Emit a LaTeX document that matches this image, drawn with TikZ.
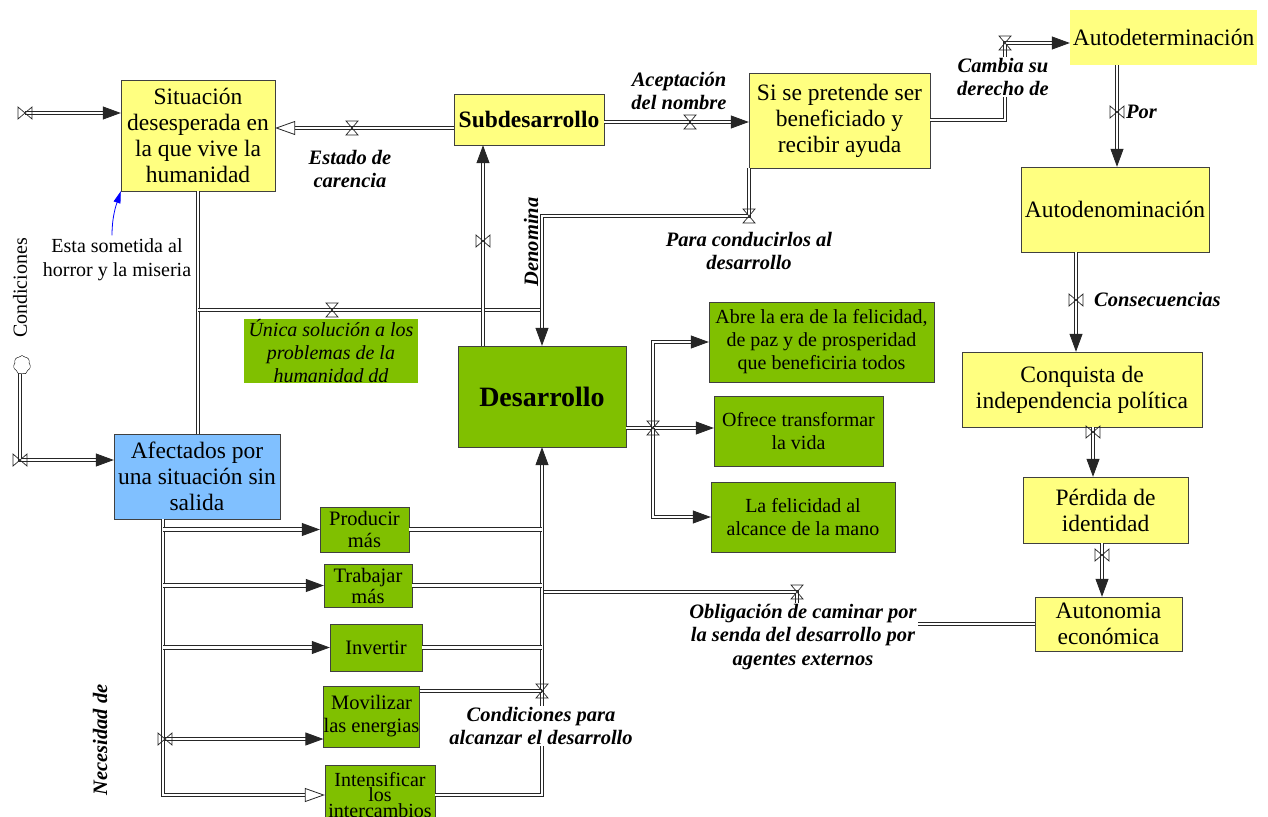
\documentclass[tikz,border=0pt]{standalone}
\usepackage{fontspec}
\setmainfont{Liberation Serif}
\usetikzlibrary{arrows.meta, shapes.symbols, calc}
\definecolor{stockyel}{RGB}{255,255,128}
\definecolor{devgreen}{RGB}{128,192,0}
\definecolor{affblue}{RGB}{128,192,255}
\definecolor{edge}{RGB}{64,64,64}

\begin{document}
\begin{tikzpicture}[x=1pt, y=-1pt,
  stock/.style={draw=edge, fill=stockyel, align=center, inner sep=0pt, font=\fontsize{23.5}{26}\selectfont},
  goal/.style={draw=edge, fill=devgreen, align=center, inner sep=0pt, font=\fontsize{20}{23}\selectfont},
  rate/.style={fill=white, align=center, inner sep=1pt, font=\fontsize{20.5}{23.5}\selectfont\bfseries\itshape},
  pipe/.style={draw=black!85, double=white, double distance=2.6pt, line width=0.8pt},
  flow/.style={pipe, -{Triangle[length=18pt, width=13pt]}},
  oflow/.style={pipe, -{Triangle[open, length=20pt, width=14pt, fill=white]}},
  valveh/.pic={\draw[black!85, line width=0.7pt] (-6,-7) -- (6,-7) -- (-6,7) -- (6,7) -- cycle;},
  valvev/.pic={\draw[black!85, line width=0.7pt] (-7,-6) -- (-7,6) -- (7,-6) -- (7,6) -- cycle;}]
  \path[use as bounding box, fill=white] (0,0) rectangle (1268,816);

  \node[stock, minimum width=154, minimum height=111] (sit) at (198,135.5) {Situación\\desesperada en\\la que vive la\\humanidad};
  \node[stock, font=\fontsize{23.5}{26}\selectfont\bfseries, minimum width=150, minimum height=51] (sub) at (529,119.5) {Subdesarrollo};
  \node[stock, minimum width=181, minimum height=95] (pre) at (839.5,120.5) {Si se pretende ser\\beneficiado y\\recibir ayuda};
  \node[stock, draw=none, minimum width=187, minimum height=55] (adet) at (1163.5,37.5) {Autodeterminación};
  \node[stock, minimum width=188, minimum height=85] (aden) at (1115,209.5) {Autodenominación};
  \node[stock, minimum width=240, minimum height=75] (conq) at (1082,389.5) {Conquista de\\independencia política};
  \node[stock, minimum width=165, minimum height=66] (perd) at (1105.5,510) {Pérdida de\\identidad};
  \node[stock, minimum width=147, minimum height=54] (auto) at (1108.5,624) {Autonomia\\económica};
  \node[goal, font=\fontsize{28}{30}\selectfont\bfseries, minimum width=168, minimum height=101] (des) at (542,396.5) {Desarrollo};
  \node[goal, minimum width=225, minimum height=80] (abre) at (821.5,342) {Abre la era de la felicidad,\\de paz y de prosperidad\\que beneficiria todos};
  \node[goal, minimum width=169, minimum height=70] (ofre) at (798.5,431) {Ofrece transformar\\la vida};
  \node[goal, minimum width=184, minimum height=70] (feli) at (803,517) {La felicidad al\\alcance de la mano};
  \node[stock, fill=affblue, minimum width=166, minimum height=85] (afe) at (197,476.5) {Afectados por\\una situación sin\\salida};
  \node[goal, font=\fontsize{20.5}{22}\selectfont, minimum width=89, minimum height=45] (prod) at (364.5,529.5) {Producir\\más};
  \node[goal, font=\fontsize{20.5}{21}\selectfont, minimum width=88, minimum height=43] (trab) at (368,585.5) {Trabajar\\más};
  \node[goal, font=\fontsize{20.5}{23}\selectfont, minimum width=92, minimum height=47] (inv) at (376,647.5) {Invertir};
  \node[goal, font=\fontsize{20.5}{23}\selectfont, minimum width=89, minimum height=61] (mov) at (371.5,716.5) {Movilizar\\las energias};
  \node[goal, font=\fontsize{20}{12.5}\selectfont, minimum width=110, minimum height=60] (int) at (380,795) {Intensificar\\los\\intercambios};
  \node[goal, draw=none, font=\fontsize{20}{23}\selectfont\itshape, minimum width=174, minimum height=64] (unica) at (331,351) {Única solución a los\\problemas de la\\humanidad dd};
  \node[cloud, draw, cloud puffs=7, cloud puff arc=110, aspect=1, minimum width=17, minimum height=19, inner sep=0pt] (cloud) at (22,365) {};

  \coordinate (v0) at (25,113);
  \coordinate (v1) at (352,128);
  \coordinate (v2) at (690,122);
  \coordinate (c3) at (1005,120);
  \coordinate (v3) at (1005,43);
  \coordinate (v4) at (1117,112);
  \coordinate (v5) at (1076,300);
  \coordinate (v6) at (1093,432);
  \coordinate (v7) at (1102,555);
  \coordinate (v8) at (797,592);
  \coordinate (v9) at (749,216);
  \coordinate (v10) at (332,310);
  \coordinate (v11) at (483,241);
  \coordinate (v12) at (653,428);
  \coordinate (bus) at (163,795);
  \coordinate (v13) at (542,691);
  \coordinate (v14) at (165,739);
  \coordinate (v15) at (20,460);

  \draw[flow] (v0) -- (v0 -| sit.west);
  \draw[oflow] (v1 -| sub.west) -- (v1 -| sit.east);
  \draw[flow] (v2 -| sub.east) -- (v2 -| pre.west);
  \draw[flow] (c3 -| pre.east) -- (c3) -- (v3) -- (v3 -| adet.west);
  \draw[flow] (v4 |- adet.south) -- (v4 |- aden.north);
  \draw[flow] (v5 |- aden.south) -- (v5 |- conq.north);
  \draw[flow] (v6 |- conq.south) -- (v6 |- perd.north);
  \draw[flow] (v7 |- perd.south) -- (v7 |- auto.north);
  \draw[pipe] (auto.west) -| (v8) -- (v8 -| des.south);
  \draw[pipe] (sit.south) -- (sit.south |- afe.north);
  \draw[pipe] (sit.south |- v10) -- (v10 -| des.north);
  \draw[flow] (v9 |- pre.south) -- (v9) -| (des.north);
  \draw[flow] (v11 |- des.north) -- (v11 |- sub.south);
  \draw[pipe] (v12 -| des.east) -- (v12);
  \draw[flow] (v12) |- (abre.west);
  \draw[flow] (v12) -- (v12 -| ofre.west);
  \draw[flow] (v12) |- (feli.west);
  \draw[flow] (int.east |- bus) -| (des.south);
  \draw[oflow] (bus |- afe.south) -- (bus) -- (bus -| int.west);
  \draw[flow] (bus |- prod.west) -- (prod.west);
  \draw[flow] (bus |- trab.west) -- (trab.west);
  \draw[flow] (bus |- inv.west) -- (inv.west);
  \draw[flow] (v14) -- (v14 -| mov.west);
  \draw[pipe] (prod.east) -- (prod.east -| des.south);
  \draw[pipe] (trab.east) -- (trab.east -| des.south);
  \draw[pipe] (inv.east) -- (inv.east -| des.south);
  \draw[pipe] (v13 -| mov.east) -- (v13);
  \draw[flow] (cloud.south -| v15) -- (v15) -- (v15 -| afe.west);

  \foreach \v in {v1,v2,v3,v8,v9,v10,v12,v13}
    \pic at (\v) {valveh};
  \foreach \v in {v0,v4,v5,v6,v7,v11,v14,v15}
    \pic at (\v) {valvev};

  \node[rate] (lcar) at (350,169) {Estado de\\carencia};
  \node[rate] (lace) at (679,91) {Aceptación\\del nombre};
  \node[rate] (lcam) at (1003,77) {Cambia su\\derecho de};
  \node[rate, fill=none, anchor=west] (lpor) at (1125,112) {Por};
  \node[rate, anchor=west] (lcon) at (1093,300) {Consecuencias};
  \node[rate] (lpar) at (749,251) {Para conducirlos al\\desarrollo};
  \node[rate, fill=none, rotate=90] (lden) at (531,242) {Denomina};
  \node[rate] (lobl) at (803,637) {Obligación de caminar por\\la senda del desarrollo por\\agentes externos};
  \node[rate] (lalc) at (541,726) {Condiciones para\\alcanzar el desarrollo};
  \node[rate, rotate=90] (lnec) at (100,740) {Necesidad de};
  \node[font=\fontsize{20}{23}\selectfont, rotate=90] (lcnd) at (20,288) {Condiciones};
  \node[align=center, font=\fontsize{20}{24}\selectfont] (esta) at (117,260) {Esta sometida al\\horror y la miseria};
  \draw[blue, line width=0.8pt, -{Triangle[length=12pt, width=7pt]}] ([xshift=-5pt]esta.north) .. controls +(0,-20) and +(-4,12) .. (sit.south west);
\end{tikzpicture}
\end{document}
